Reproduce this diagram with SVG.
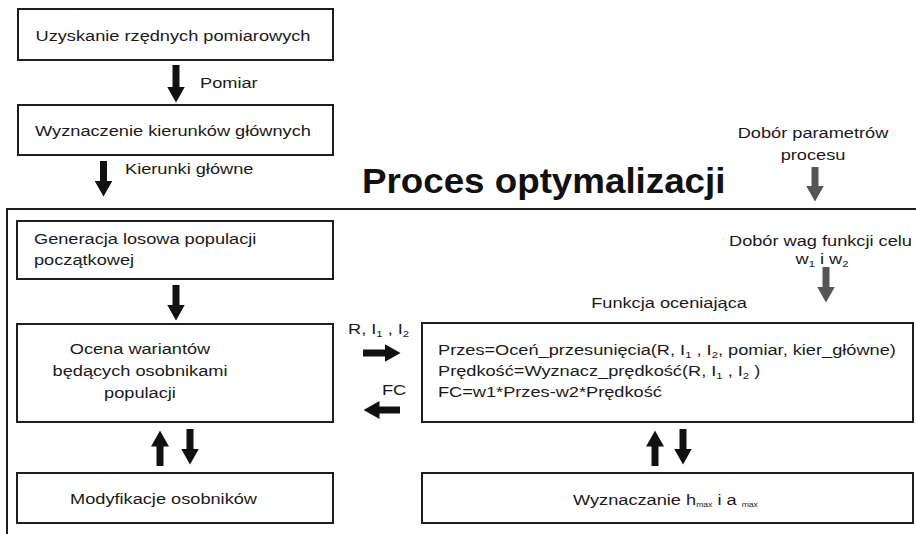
<svg xmlns="http://www.w3.org/2000/svg" width="916" height="534" viewBox="0 0 916 534">
<style>
.box{fill:#fff;stroke:#1e1e1e;stroke-width:2}
.t{font-family:"Liberation Sans",Arial,sans-serif;font-size:15.3px;fill:#1a1a1a}
.m{text-anchor:middle}
.sub{font-size:9.5px}
.sm{font-size:7.2px}
.title{font-family:"Liberation Sans",Arial,sans-serif;font-size:35px;font-weight:bold;fill:#111}
.ar{stroke:#111;stroke-width:7;fill:none}
.ag{stroke:#555;stroke-width:7;fill:none}
.frame{fill:none;stroke:#1e1e1e;stroke-width:2}
</style>
<defs>
<marker id="ah" markerUnits="userSpaceOnUse" markerWidth="16" markerHeight="18" viewBox="0 0 16 18" refX="0.5" refY="9" orient="auto"><path d="M0,0 L16,9 L0,18 Z" fill="#111"/></marker>
<marker id="ahg" markerUnits="userSpaceOnUse" markerWidth="16" markerHeight="18" viewBox="0 0 16 18" refX="0.5" refY="9" orient="auto"><path d="M0,0 L16,9 L0,18 Z" fill="#555"/></marker>
</defs>
<rect width="916" height="534" fill="#fff"/>
<path class="frame" d="M7,534 V209 H916"/>
<text class="title" transform="translate(362,193) scale(1.05,1)">Proces optymalizacji</text>

<g id="n-uzyskanie">
<rect class="box" x="18" y="9" width="315" height="51"/>
<text class="t m" transform="translate(173,41) scale(1.19,1)">Uzyskanie rzędnych pomiarowych</text>
</g>
<g id="n-wyznaczenie-kierunkow">
<rect class="box" x="18" y="105" width="315" height="50"/>
<text class="t m" transform="translate(173,136) scale(1.19,1)">Wyznaczenie kierunków głównych</text>
</g>
<g id="n-generacja">
<rect class="box" x="17" y="221" width="316" height="58"/>
<text class="t" transform="translate(34,244) scale(1.19,1)">Generacja losowa populacji</text>
<text class="t" transform="translate(34,265) scale(1.19,1)">początkowej</text>
</g>
<g id="n-ocena">
<rect class="box" x="17" y="324" width="316" height="98"/>
<text class="t m" transform="translate(140,354) scale(1.19,1)">Ocena wariantów</text>
<text class="t m" transform="translate(140,376) scale(1.19,1)">będących osobnikami</text>
<text class="t m" transform="translate(140,398) scale(1.19,1)">populacji</text>
</g>
<g id="n-modyfikacje">
<rect class="box" x="17" y="473" width="316" height="50"/>
<text class="t" transform="translate(70,504) scale(1.19,1)">Modyfikacje osobników</text>
</g>
<g id="n-funkcja">
<text class="t m" transform="translate(669,308) scale(1.19,1)">Funkcja oceniająca</text>
<rect class="box" x="422" y="323" width="491" height="99"/>
<text class="t" transform="translate(438,355) scale(1.19,1)">Przes=Oceń_przesunięcia(R, I<tspan class="sub" dy="3">1</tspan><tspan dy="-3"> , I</tspan><tspan class="sub" dy="3">2</tspan><tspan dy="-3">, pomiar, kier_główne)</tspan></text>
<text class="t" transform="translate(438,376) scale(1.19,1)">Prędkość=Wyznacz_prędkość(R, I<tspan class="sub" dy="3">1</tspan><tspan dy="-3"> , I</tspan><tspan class="sub" dy="3">2</tspan><tspan dy="-3"> )</tspan></text>
<text class="t" transform="translate(438,397) scale(1.19,1)">FC=w1*Przes-w2*Prędkość</text>
</g>
<g id="n-hmax">
<rect class="box" x="422" y="473" width="491" height="50"/>
<text class="t" transform="translate(573,505) scale(1.19,1)">Wyznaczanie h<tspan class="sm" dy="2">max</tspan><tspan dy="-2"> i a </tspan><tspan class="sm" dy="2">max</tspan></text>
</g>
<g id="n-dobor-parametrow">
<text class="t m" transform="translate(813,138) scale(1.19,1)">Dobór parametrów</text>
<text class="t m" transform="translate(813,160) scale(1.19,1)">procesu</text>
</g>
<g id="n-dobor-wag">
<text class="t" transform="translate(729,246) scale(1.19,1)">Dobór wag funkcji celu</text>
<text class="t m" transform="translate(822,264) scale(1.19,1)">w<tspan class="sub" dy="3">1</tspan><tspan dy="-3"> i w</tspan><tspan class="sub" dy="3">2</tspan></text>
</g>

<g id="connectors">
<line class="ar" x1="176" y1="65" x2="176" y2="87" marker-end="url(#ah)"/>
<text class="t" transform="translate(200,88) scale(1.19,1)">Pomiar</text>
<line class="ar" x1="103.5" y1="161" x2="103.5" y2="181" marker-end="url(#ah)"/>
<text class="t" transform="translate(125,174) scale(1.19,1)">Kierunki główne</text>
<line class="ar" x1="176" y1="285" x2="176" y2="305" marker-end="url(#ah)"/>
<line class="ar" x1="160" y1="466" x2="160" y2="446" marker-end="url(#ah)"/>
<line class="ar" x1="190" y1="429" x2="190" y2="449" marker-end="url(#ah)"/>
<line class="ar" x1="655" y1="466" x2="655" y2="446" marker-end="url(#ah)"/>
<line class="ar" x1="683" y1="429" x2="683" y2="449" marker-end="url(#ah)"/>
<line class="ar" x1="363" y1="353" x2="385" y2="353" marker-end="url(#ah)"/>
<text class="t" transform="translate(348,334) scale(1.19,1)">R, I<tspan class="sub" dy="3">1</tspan><tspan dy="-3"> , I</tspan><tspan class="sub" dy="3">2</tspan></text>
<line class="ar" x1="400" y1="410" x2="379" y2="410" marker-end="url(#ah)"/>
<text class="t" transform="translate(382,395) scale(1.19,1)">FC</text>
<line class="ag" x1="815" y1="167" x2="815" y2="186" marker-end="url(#ahg)"/>
<line class="ag" x1="826" y1="267" x2="826" y2="287" marker-end="url(#ahg)"/>
</g>
</svg>
